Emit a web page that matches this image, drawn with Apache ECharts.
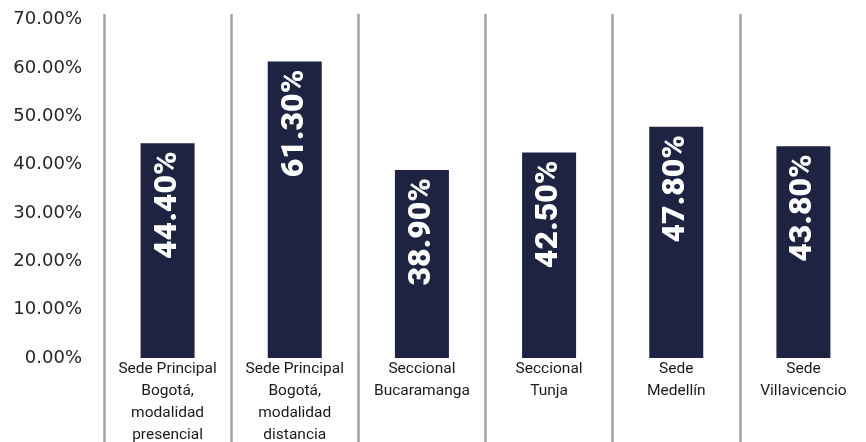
<!DOCTYPE html>
<html>
<head>
<meta charset="utf-8">
<script src="https://cdn.jsdelivr.net/npm/echarts@6/dist/echarts.min.js"></script>
<style>
html,body{margin:0;padding:0;background:#fff;}
#chart{width:866px;height:442px;}
</style>
</head>
<body>
<div id="chart"></div>
<script>
const categories = [
  "Sede Principal\nBogotá,\nmodalidad\npresencial",
  "Sede Principal\nBogotá,\nmodalidad\ndistancia",
  "Seccional\nBucaramanga",
  "Seccional\nTunja",
  "Sede\nMedellín",
  "Sede\nVillavicencio"
];
const values = [44.4, 61.3, 38.9, 42.5, 47.8, 43.8];
const yTicks = [0, 10, 20, 30, 40, 50, 60, 70];

const chart = echarts.init(document.getElementById('chart'), null, {renderer: 'canvas'});
chart.setOption({
  animation: false,
  backgroundColor: '#ffffff',
  grid: {left: 104, top: 14, width: 763, bottom: 84, containLabel: false, outerBoundsMode: 'none'},
  xAxis: {
    type: 'category',
    data: categories,
    boundaryGap: true,
    axisLine: {show: false},
    axisTick: {show: true, inside: false, length: 90, alignWithLabel: false,
      lineStyle: {color: '#a3a3a3', width: 2.5}},
    splitLine: {show: true, lineStyle: {color: '#a3a3a3', width: 2.5}},
    axisLabel: {
      interval: 0, margin: 0, fontFamily: 'Roboto', fontSize: 15.5,
      color: '#1a1a1a', lineHeight: 22
    }
  },
  yAxis: {
    type: 'value',
    min: 0,
    max: 71.14,
    interval: 10,
    axisLine: {show: false},
    axisTick: {show: false},
    splitLine: {show: false},
    axisLabel: {
      margin: 22, fontFamily: 'DejaVu Sans', fontSize: 18, color: '#262626',
      formatter: function (v) { return yTicks.indexOf(v) >= 0 ? v.toFixed(2) + '%' : ''; }
    }
  },
  series: [{
    type: 'bar',
    data: values,
    barWidth: 54,
    itemStyle: {color: '#1e2341'},
    label: {
      show: true,
      position: 'insideTop',
      distance: 8,
      rotate: 90,
      align: 'right',
      verticalAlign: 'middle',
      color: '#ffffff',
      fontFamily: 'Roboto',
      fontWeight: 900,
      fontSize: 32,
      formatter: function (p) { return p.value.toFixed(2) + '%'; }
    }
  }]
});
</script>
</body>
</html>
